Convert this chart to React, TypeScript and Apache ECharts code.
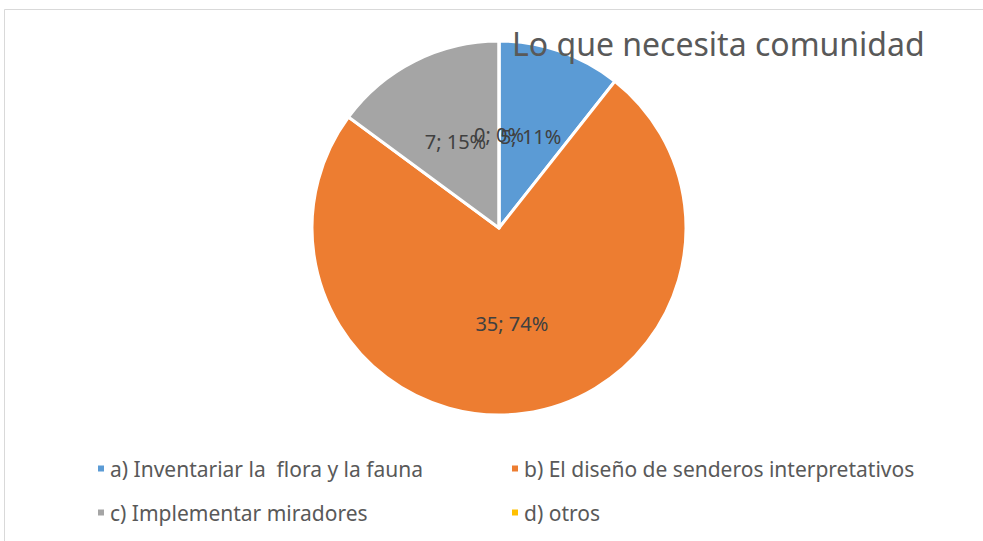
import React, { useEffect, useRef } from "react";
import * as echarts from "echarts";

const titleText = "Lo que necesita comunidad";
const categories = [
  "a) Inventariar la  flora y la fauna",
  "b) El diseño de senderos interpretativos",
  "c) Implementar miradores",
  "d) otros",
];
const values = [5, 35, 7, 0];
const colors = ["#5B9BD5", "#ED7D31", "#A5A5A5", "#FFC000"];

export default function App() {
  const ref = useRef<HTMLDivElement>(null);
  useEffect(() => {
    if (!ref.current) return;
    const chart = echarts.init(ref.current, null, { renderer: "svg" });
    const total = values.reduce((a, b) => a + b, 0);
    const font = "Noto Sans";
    const labelFmt = (v: number) => `${v}; ${Math.round((v / total) * 100)}%`;
    const labelStyle = { fontFamily: font, fontSize: 20, color: "#404040" };
    const legendText = { fontFamily: font, fontSize: 21, color: "#595959" };
    const frame = {
      type: "rect",
      shape: { x: 4.5, y: 9.5, width: 1000, height: 600 },
      style: { fill: "none", stroke: "#d9d9d9", lineWidth: 1 },
      z: -10,
    };
    chart.setOption({
      animation: false,
      backgroundColor: "#ffffff",
      title: {
        text: titleText,
        left: 507,
        top: 22,
        textStyle: { fontFamily: font, fontSize: 32, fontWeight: "normal", color: "#595959" },
      },
      graphic: [frame],
      legend: [
        {
          data: [categories[0], categories[2]],
          orient: "vertical",
          left: 91,
          top: 453,
          itemWidth: 8,
          itemHeight: 8,
          itemGap: 23,
          icon: "rect",
          textStyle: legendText,
        },
        {
          data: [categories[1], categories[3]],
          orient: "vertical",
          left: 505,
          top: 453,
          itemWidth: 8,
          itemHeight: 8,
          itemGap: 23,
          icon: "rect",
          textStyle: legendText,
        },
      ],
      series: [
        {
          type: "pie",
          center: [499, 228],
          radius: [0, 187],
          startAngle: 90,
          clockwise: true,
          itemStyle: { borderColor: "#ffffff", borderWidth: 3 },
          label: {
            show: true,
            position: "inside",
            ...labelStyle,
            formatter: (p: any) => labelFmt(p.value),
          },
          labelLine: { show: false },
          emphasis: { disabled: true },
          data: categories.map((name, i) => ({
            name,
            value: values[i],
            itemStyle: { color: colors[i] },
            label: { show: values[i] !== 0 },
          })),
        },
      ],
    });

    // zero-value slices: ECharts hides their labels, so place them from the pie's own layout
    try {
      const data = (chart as any).getModel().getSeriesByIndex(0).getData();
      const extra: any[] = [];
      values.forEach((v, i) => {
        if (v !== 0) return;
        const l = data.getItemLayout(i);
        if (!l) return;
        const mid = (l.startAngle + l.endAngle) / 2;
        const rr = (l.r + (l.r0 || 0)) / 2;
        extra.push({
          type: "text",
          x: l.cx + rr * Math.cos(mid),
          y: l.cy + rr * Math.sin(mid),
          z: 100,
          style: {
            text: labelFmt(v),
            fill: labelStyle.color,
            font: `${labelStyle.fontSize}px "${font}"`,
            textAlign: "center",
            textVerticalAlign: "middle",
          },
        });
      });
      if (extra.length) {
        chart.setOption({ graphic: [frame, ...extra] });
      }
    } catch (e) {}
    return () => chart.dispose();
  }, []);
  return (
    <div
      ref={ref}
      style={{ position: "absolute", left: 0, top: 0, width: 983, height: 541 }}
    />
  );
}
